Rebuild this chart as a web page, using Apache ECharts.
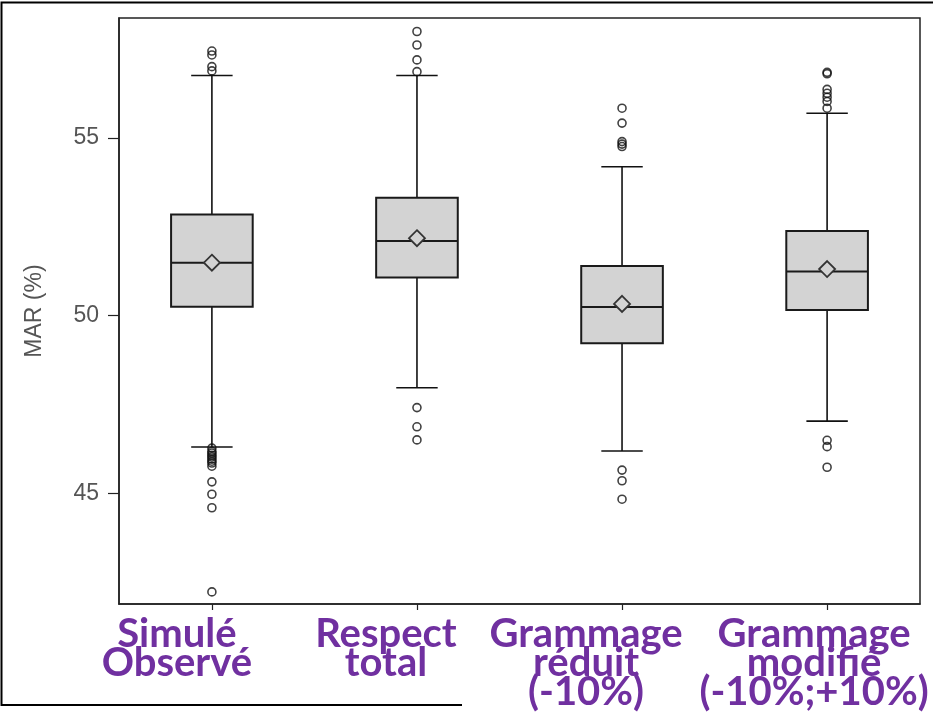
<!DOCTYPE html>
<html>
<head>
<meta charset="utf-8">
<script src="https://cdn.jsdelivr.net/npm/echarts@6/dist/echarts.min.js"></script>
<style>
  html, body { margin: 0; padding: 0; background: #fff; }
  #chart { width: 933px; height: 714px; }
</style>
</head>
<body>
<div id="chart"></div>
<script>
// Scenario labels (x axis)
const categories = [
  'Simulé\nObservé',
  'Respect\ntotal',
  'Grammage\nréduit\n(-10%)',
  'Grammage\nmodifié\n(-10%;+10%)'
];

// Box statistics, MAR (%)
const whiskerLow  = [46.30, 47.97, 46.19, 47.03];
const quartile1   = [50.25, 51.07, 49.22, 50.16];
const medians     = [51.49, 52.10, 50.24, 51.24];
const quartile3   = [52.85, 53.32, 51.40, 52.38];
const whiskerHigh = [56.76, 56.76, 54.19, 55.70];
const means       = [51.49, 52.18, 50.33, 51.31];

// Outlying simulations per scenario
const outliers = [
  [57.45, 57.34, 57.01, 56.89, 46.27, 46.18, 46.13, 46.07, 46.02, 45.96, 45.90, 45.85, 45.76, 45.32, 44.97, 44.59, 42.22],
  [58.00, 57.62, 57.20, 56.87, 47.41, 46.87, 46.50],
  [55.84, 55.42, 54.90, 54.83, 54.76, 45.65, 45.35, 44.83],
  [56.85, 56.81, 56.37, 56.26, 56.15, 56.03, 55.84, 46.49, 46.31, 45.73]
];

// Axis ticks
const yTicks = [45, 50, 55];
const xTicks = [1, 2, 3, 4];
// labels are split over two stacked axes so wide neighbours never collide
const xLabelsOdd = [1, 3];
const xLabelsEven = [2, 4];

const boxData = categories.map((c, i) => [
  i + 1, whiskerLow[i], quartile1[i], medians[i], quartile3[i], whiskerHigh[i], means[i]
]);
const outlierData = [];
outliers.forEach((vals, i) => vals.forEach(v => outlierData.push([i + 1, v])));

function renderBox(params, api) {
  const x = api.value(0);
  const lo = api.coord([x, api.value(1)]);
  const q1 = api.coord([x, api.value(2)]);
  const md = api.coord([x, api.value(3)]);
  const q3 = api.coord([x, api.value(4)]);
  const hi = api.coord([x, api.value(5)]);
  const mn = api.coord([x, api.value(6)]);
  const step = api.size([1, 0])[0];
  const hw = step * 0.199;   // half box width
  const cw = step * 0.101;   // half whisker cap width
  const cx = lo[0];
  const wl = { stroke: '#111', lineWidth: 1.6 };
  const d = 8;
  return {
    type: 'group',
    children: [
      { type: 'line', shape: { x1: cx, y1: hi[1], x2: cx, y2: q3[1] }, style: wl },
      { type: 'line', shape: { x1: cx, y1: q1[1], x2: cx, y2: lo[1] }, style: wl },
      { type: 'line', shape: { x1: cx - cw, y1: hi[1], x2: cx + cw, y2: hi[1] }, style: wl },
      { type: 'line', shape: { x1: cx - cw, y1: lo[1], x2: cx + cw, y2: lo[1] }, style: wl },
      { type: 'rect', shape: { x: cx - hw, y: q3[1], width: 2 * hw, height: q1[1] - q3[1] },
        style: { fill: '#d3d3d3', stroke: '#1a1a1a', lineWidth: 2 } },
      { type: 'line', shape: { x1: cx - hw, y1: md[1], x2: cx + hw, y2: md[1] },
        style: { stroke: '#1a1a1a', lineWidth: 2 } },
      { type: 'polygon',
        shape: { points: [[cx, mn[1] - d], [cx + d, mn[1]], [cx, mn[1] + d], [cx - d, mn[1]]] },
        style: { fill: '#d3d3d3', stroke: '#333', lineWidth: 1.8 } }
    ]
  };
}

const labelFont = {
  fontFamily: 'Lato',
  fontWeight: 'bold',
  fontSize: 40,
  lineHeight: 29,
  color: '#7030A0'
};
const labelRich = {
  c0: { ...labelFont, padding: [0, 70, 0, 0] },
  c1: { ...labelFont, padding: [0, 62, 0, 0] },
  c2: { ...labelFont, padding: [0, 72, 0, 0] },
  c3: { ...labelFont, padding: [0, 26, 0, 0] }
};
function formatCategory(val) {
  const i = Math.round(val) - 1;
  return categories[i].split('\n').map(s => '{c' + i + '|' + s + '}').join('\n');
}
function labelAxis(values, visibleLine) {
  return {
    type: 'value',
    position: 'bottom',
    min: 0.547,
    max: 4.453,
    splitLine: { show: false },
    axisLine: { show: visibleLine, lineStyle: { color: '#222', width: 1.5 } },
    axisTick: { show: visibleLine, customValues: xTicks, length: 6, lineStyle: { color: '#222', width: 1.2 } },
    axisLabel: {
      customValues: values,
      hideOverlap: false,
      margin: 16,
      ...labelFont,
      formatter: formatCategory,
      rich: labelRich
    }
  };
}

const chart = echarts.init(document.getElementById('chart'), null, { renderer: 'canvas' });
chart.setOption({
  animation: false,
  backgroundColor: '#fff',
  grid: {
    left: 119, right: 13, top: 18, bottom: 110,
    containLabel: false,
    outerBoundsMode: 'none',
    show: true,
    borderColor: '#222',
    borderWidth: 1.5,
    backgroundColor: 'transparent'
  },
  xAxis: [labelAxis(xLabelsOdd, true), labelAxis(xLabelsEven, false)],
  yAxis: {
    type: 'value',
    min: 41.88,
    max: 58.38,
    name: 'MAR (%)',
    nameLocation: 'middle',
    nameGap: 73,
    nameRotate: 90,
    nameTextStyle: { fontFamily: 'Liberation Sans', fontSize: 23, color: '#555' },
    splitLine: { show: false },
    axisLine: { show: true, lineStyle: { color: '#222', width: 1.5 } },
    axisTick: { show: true, customValues: yTicks, length: 11, lineStyle: { color: '#222', width: 1.2 } },
    axisLabel: {
      customValues: yTicks,
      margin: 20,
      fontFamily: 'Liberation Sans',
      fontSize: 23,
      color: '#555'
    }
  },
  graphic: [
    {
      type: 'polyline',
      silent: true,
      shape: { points: [[462, 705], [1.5, 705], [1.5, 2.5], [933, 2.5]] },
      style: { stroke: '#000', lineWidth: 2, fill: null }
    }
  ],
  series: [
    {
      type: 'custom',
      renderItem: renderBox,
      data: boxData,
      xAxisIndex: 0,
      encode: { x: 0, y: [1, 2, 3, 4, 5, 6] },
      z: 2
    },
    {
      type: 'scatter',
      data: outlierData,
      xAxisIndex: 0,
      symbol: 'circle',
      symbolSize: 8,
      itemStyle: { color: 'rgba(255,255,255,0)', borderColor: '#111', borderWidth: 1.6 },
      z: 3
    }
  ]
});
</script>
</body>
</html>
